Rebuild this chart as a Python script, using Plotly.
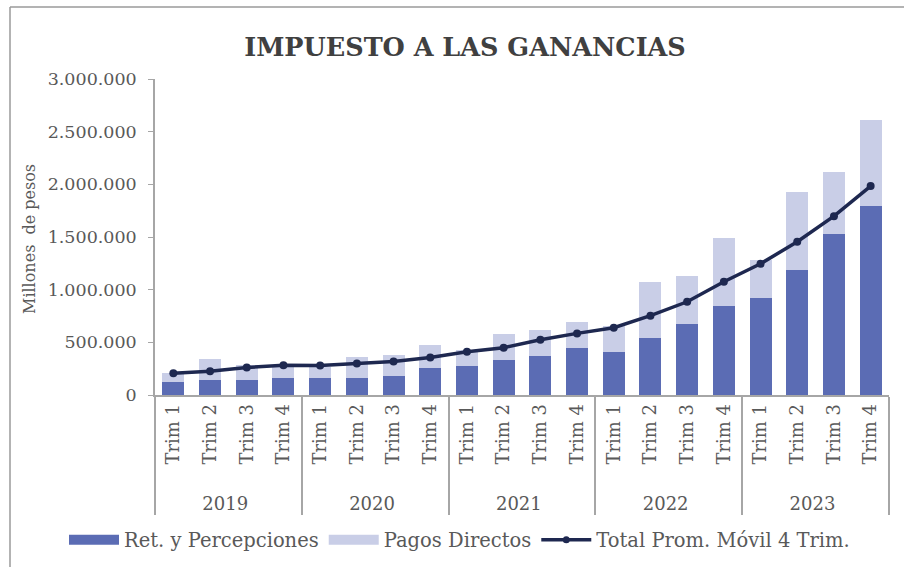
import plotly.graph_objects as go

years = ["2019"] * 4 + ["2020"] * 4 + ["2021"] * 4 + ["2022"] * 4 + ["2023"] * 4
trims = ["Trim 1", "Trim 2", "Trim 3", "Trim 4"] * 5

ret_percepciones = [126000, 147000, 147000, 164000, 164000, 164000, 183000, 259000,
                    278000, 335000, 373000, 449000, 411000, 544000, 677000, 847000,
                    923000, 1189000, 1530000, 1796000]
pagos_directos = [83000, 192000, 135000, 108000, 105000, 194000, 193000, 212000,
                  149000, 247000, 247000, 247000, 244000, 531000, 455000, 645000,
                  361000, 740000, 588000, 813000]
prom_movil = [206000, 225000, 261000, 283000, 281000, 300000, 319000, 357000,
              411000, 449000, 525000, 585000, 639000, 753000, 885000, 1075000,
              1246000, 1455000, 1698000, 1983000]

y_ticks = [0, 500000, 1000000, 1500000, 2000000, 2500000, 3000000]

FONT = "DejaVu Serif"
TXT = "#595959"
C_RET = "#5B6CB4"
C_PAG = "#C9CEE7"
C_LINE = "#1E2850"

# leading non-breaking spaces only pad the rotated labels (push year row down)
trim_labels = ["\u00a0\u00a0" + t for t in trims]
x = [years, trim_labels]

fig = go.Figure()
fig.add_trace(go.Bar(x=x, y=ret_percepciones, name="Ret. y Percepciones",
                     marker=dict(color=C_RET, line=dict(width=0)), showlegend=False))
fig.add_trace(go.Bar(x=x, y=pagos_directos, name="Pagos Directos",
                     marker=dict(color=C_PAG, line=dict(width=0)), showlegend=False))
fig.add_trace(go.Scatter(x=x, y=prom_movil, name="Total Prom. Móvil 4 Trim.",
                         mode="lines+markers",
                         line=dict(color=C_LINE, width=3.5),
                         marker=dict(color=C_LINE, size=8), showlegend=False))
# legend entries (wide swatches like the original)
fig.add_trace(go.Scatter(x=[None], y=[None], mode="lines", name="Ret. y Percepciones",
                         line=dict(color=C_RET, width=14)))
fig.add_trace(go.Scatter(x=[None], y=[None], mode="lines", name="Pagos Directos",
                         line=dict(color=C_PAG, width=14)))
fig.add_trace(go.Scatter(x=[None], y=[None], mode="lines+markers",
                         name="Total Prom. Móvil 4 Trim.",
                         line=dict(color=C_LINE, width=3.5),
                         marker=dict(color=C_LINE, size=7)))

L, R, T, B = 155, 889, 79, 395
W, H = R - L, B - T


def px(xp):
    return (xp - L) / W


def py(yp):
    return (B - yp) / H


fig.update_layout(
    width=904, height=567,
    margin=dict(l=L, r=904 - R, t=T, b=567 - B, autoexpand=False),
    barmode="stack",
    bargap=0.4,
    separators=",.",
    paper_bgcolor="white",
    plot_bgcolor="white",
    font=dict(family=FONT, color=TXT, size=16),
    title=dict(text="<b>IMPUESTO A LAS GANANCIAS</b>",
               x=465 / 904, xanchor="center",
               y=1 - 47 / 567, yanchor="middle",
               font=dict(family=FONT, size=25.5, color="#404040")),
    showlegend=True,
    legend=dict(orientation="h", x=px(64), xanchor="left",
                y=py(540), yanchor="middle",
                font=dict(family=FONT, size=19.5, color=TXT),
                itemwidth=50, traceorder="normal", tracegroupgap=0,
                bgcolor="rgba(0,0,0,0)"),
    xaxis=dict(type="multicategory", tickangle=-90, range=[-0.5, 19.5],
               tickfont=dict(family=FONT, size=18, color=TXT),
               showline=True, linecolor="#A6A6A6", linewidth=1.5,
               showdividers=True, dividercolor="#A6A6A6", dividerwidth=1.5,
               ticks="", automargin=False),
    yaxis=dict(range=[0, 3000000], tickvals=y_ticks, tickformat=",d",
               showgrid=False, zeroline=False,
               showline=True, linecolor="#A6A6A6", linewidth=1.5,
               ticks="outside", ticklen=5, tickcolor="#A6A6A6",
               ticklabelstandoff=8,
               tickfont=dict(family=FONT, size=17.5, color=TXT),
               automargin=False),
    annotations=[dict(text="Millones  de pesos", textangle=-90,
                      xref="paper", yref="paper", x=px(29), y=py(239),
                      xanchor="center", yanchor="middle", showarrow=False,
                      font=dict(family=FONT, size=16, color=TXT))],
    shapes=[
        dict(type="line", xref="paper", yref="paper",
             x0=px(10), x1=px(904), y0=py(7), y1=py(7),
             line=dict(color="#9A9A9A", width=1.5)),
        dict(type="line", xref="paper", yref="paper",
             x0=px(10), x1=px(10), y0=py(7), y1=py(567),
             line=dict(color="#9A9A9A", width=1.5)),
    ],
)

fig.write_html("out.html", config={"displayModeBar": False},
               post_script="document.body.style.margin='0px';document.body.style.overflow='hidden';")
